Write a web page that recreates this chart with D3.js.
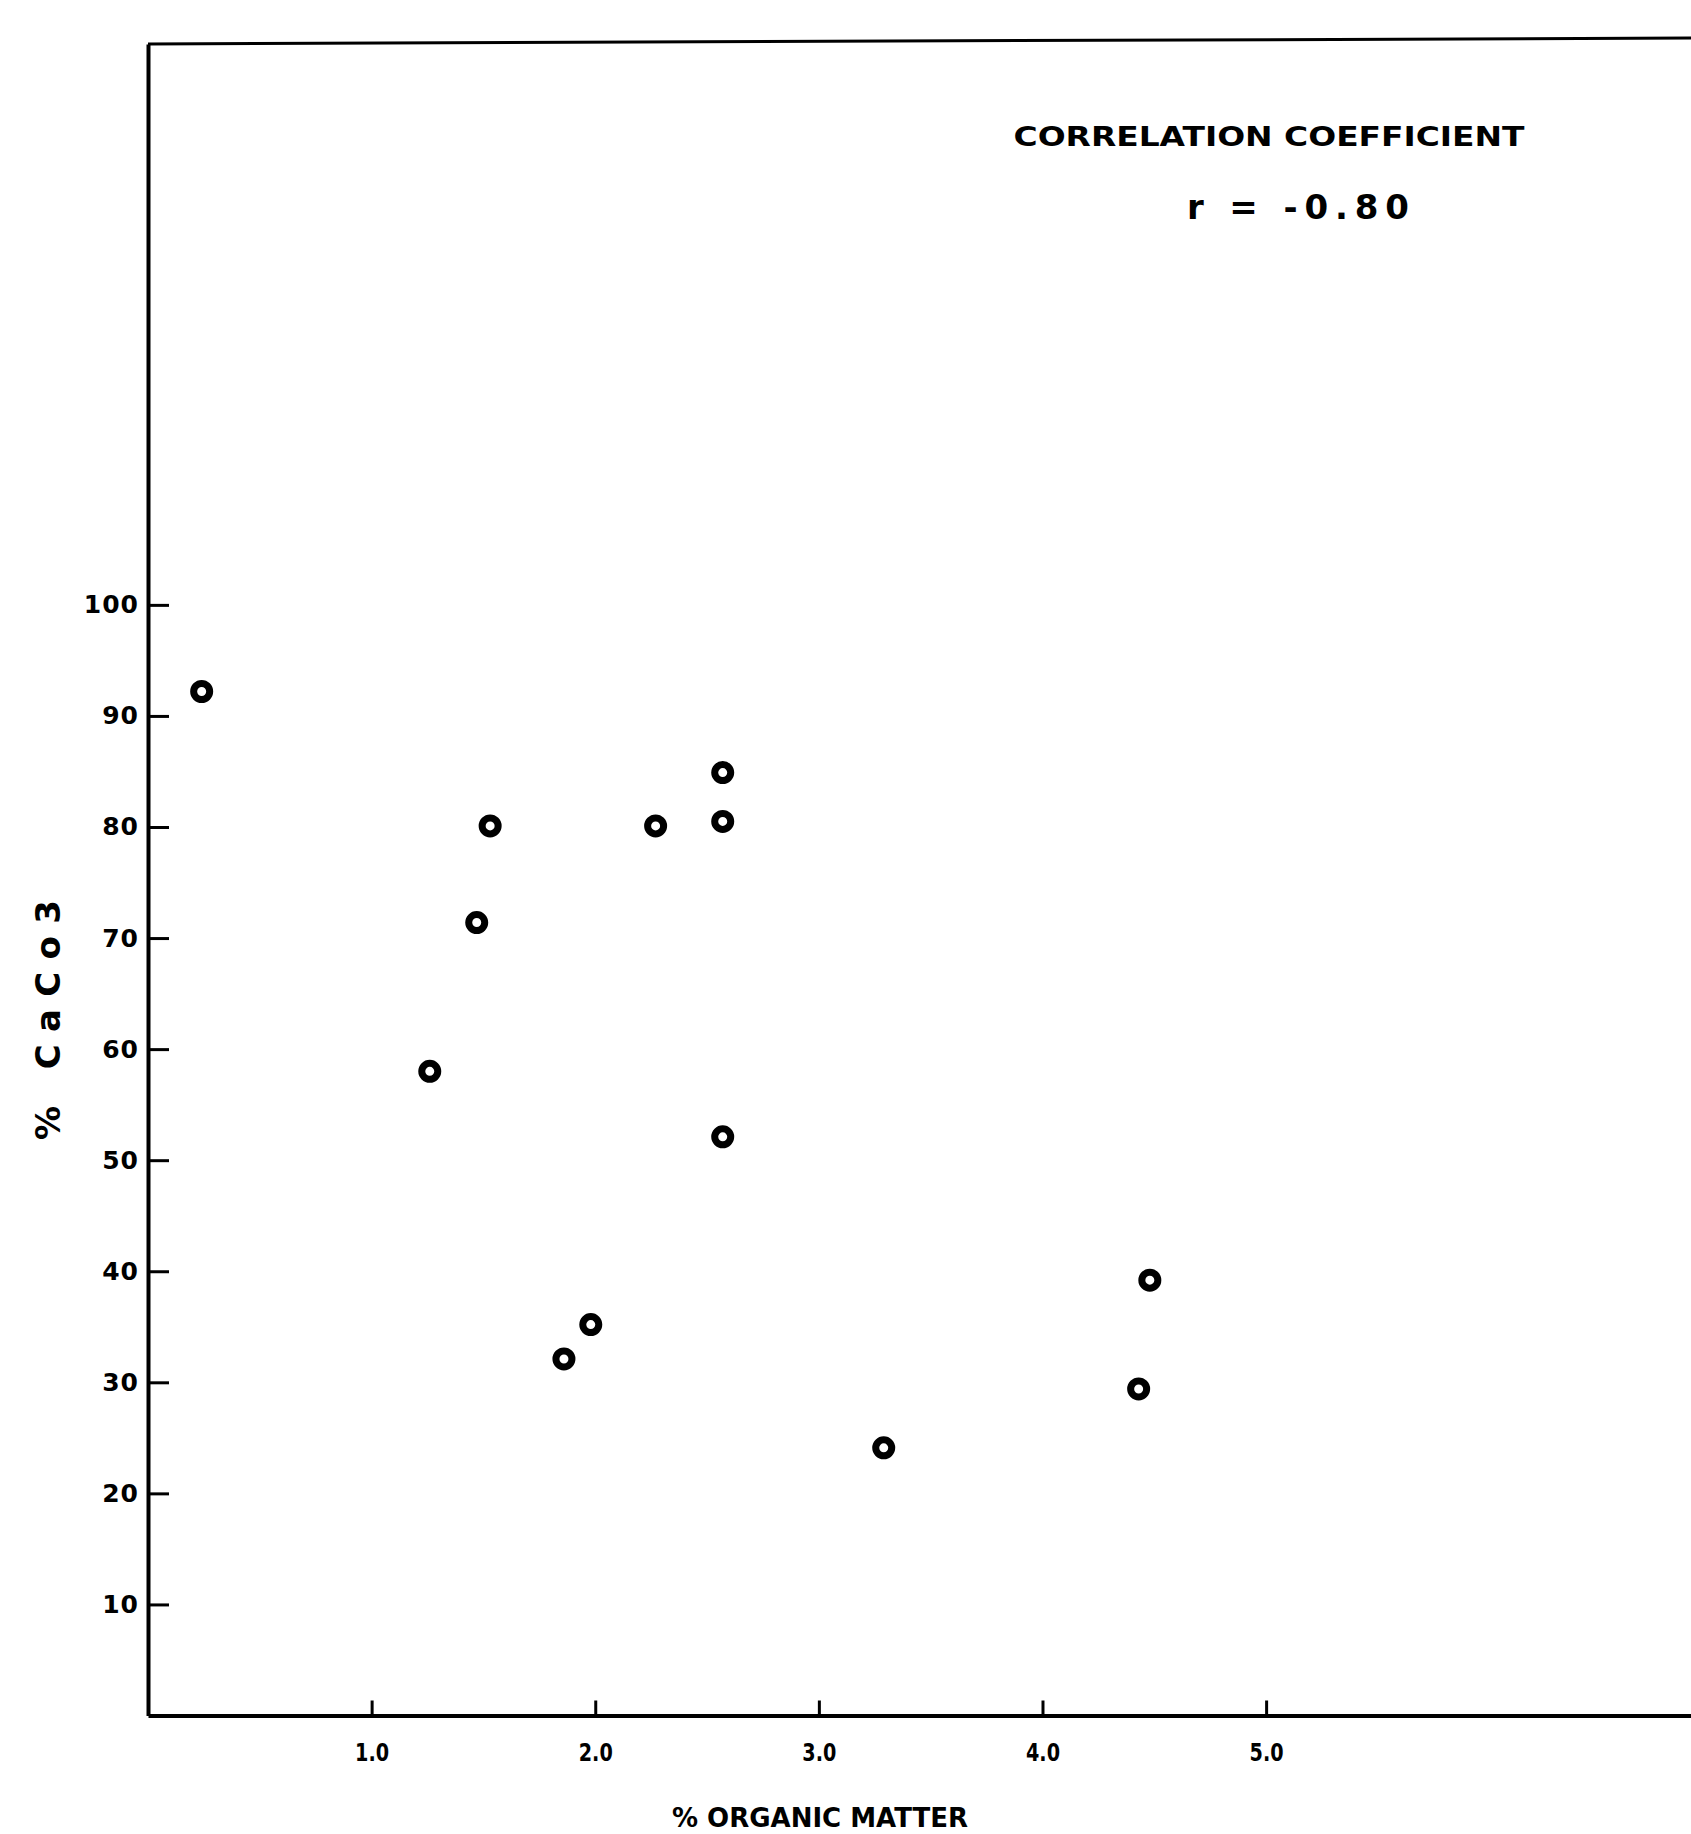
<!DOCTYPE html>
<html>

<head>
	<style>
		html,
		body {
			margin: 0;
			padding: 0;
			background: #fff;
		}
		svg text {
			font-family: 'DejaVu Sans', sans-serif;
			font-weight: bold;
			fill: #000;
		}
	</style>
</head>

<body>
	<script src="https://d3js.org/d3.v7.min.js"></script>
	<script>
		// % organic matter vs % CaCo3
		var organicMatter = [0.24, 1.53, 1.47, 1.26, 2.27, 2.57, 2.57, 2.57, 1.98, 1.86, 3.29, 4.48, 4.43];
		var caco3 = [92.2, 80.1, 71.4, 58.0, 80.1, 84.9, 80.5, 52.1, 35.2, 32.1, 24.1, 39.2, 29.4];

		var xTicks = [1, 2, 3, 4, 5];
		var yTicks = [10, 20, 30, 40, 50, 60, 70, 80, 90, 100];
		var xTitle = "% ORGANIC MATTER";
		var yTitle = "% CaCo3";
		var noteTitle = "CORRELATION COEFFICIENT";
		var noteValue = "r = -0.80";

		var width = 1691,
			height = 1834;

		var svg = d3.select("body").append("svg")
			.attr("width", width)
			.attr("height", height);

		var x = d3.scaleLinear().domain([0, 6.9]).range([148, 1691]);
		var y = d3.scaleLinear().domain([0, 150.5]).range([1715.5, 44]);

		// frame top line (open on the right)
		svg.append("line")
			.attr("x1", x(0)).attr("x2", width)
			.attr("y1", y(150.5)).attr("y2", y(150.5) - 6)
			.attr("stroke", "#000")
			.attr("stroke-width", 3);

		var xAxis = d3.axisBottom(x)
			.tickValues(xTicks)
			.tickFormat(d3.format(".1f"))
			.tickSizeInner(-15)
			.tickSizeOuter(0)
			.tickPadding(28);

		var yAxis = d3.axisLeft(y)
			.tickValues(yTicks)
			.tickFormat(d3.format("d"))
			.tickSizeInner(-21)
			.tickSizeOuter(0)
			.tickPadding(9);

		var gx = svg.append("g")
			.attr("transform", "translate(0," + y(0) + ")")
			.call(xAxis);

		var gy = svg.append("g")
			.attr("transform", "translate(" + x(0) + ",0)")
			.call(yAxis);

		[gx, gy].forEach(function(g) {
			g.select(".domain").attr("stroke-width", 4);
			g.selectAll(".tick line").attr("stroke-width", 3);
			g.selectAll(".tick text")
				.attr("font-size", "25px")
				.attr("font-family", "'DejaVu Sans', sans-serif")
				.attr("font-weight", "bold")
				.attr("fill", "#000");
		});
		gx.selectAll(".tick text")
			.attr("textLength", 34)
			.attr("lengthAdjust", "spacingAndGlyphs");
		gy.selectAll(".tick text").attr("letter-spacing", "1px");

		// points: thick ring, small hollow centre
		svg.selectAll("circle.pt")
			.data(organicMatter.map(function(d, i) { return [d, caco3[i]]; }))
			.enter()
		  .append("circle")
			.attr("class", "pt")
			.attr("cx", function(d) { return x(d[0]); })
			.attr("cy", function(d) { return y(d[1]); })
			.attr("r", 8)
			.attr("fill", "#fff")
			.attr("stroke", "#000")
			.attr("stroke-width", 7);

		// annotation
		svg.append("text")
			.attr("x", 1269)
			.attr("y", 146)
			.attr("text-anchor", "middle")
			.attr("font-size", "26px")
			.attr("textLength", 511)
			.attr("lengthAdjust", "spacingAndGlyphs")
			.text(noteTitle);

		svg.append("text")
			.attr("x", 1298)
			.attr("y", 219)
			.attr("text-anchor", "middle")
			.attr("font-size", "34px")
			.attr("textLength", 222)
			.attr("lengthAdjust", "spacing")
			.text(noteValue);

		// axis titles
		svg.append("text")
			.attr("x", 820)
			.attr("y", 1827)
			.attr("text-anchor", "middle")
			.attr("font-size", "26px")
			.attr("textLength", 296)
			.attr("lengthAdjust", "spacingAndGlyphs")
			.text(xTitle);

		svg.append("text")
			.attr("transform", "translate(60,1020) rotate(-90)")
			.attr("text-anchor", "middle")
			.attr("font-size", "34px")
			.attr("textLength", 240)
			.attr("lengthAdjust", "spacing")
			.text(yTitle);
	</script>
</body>

</html>
